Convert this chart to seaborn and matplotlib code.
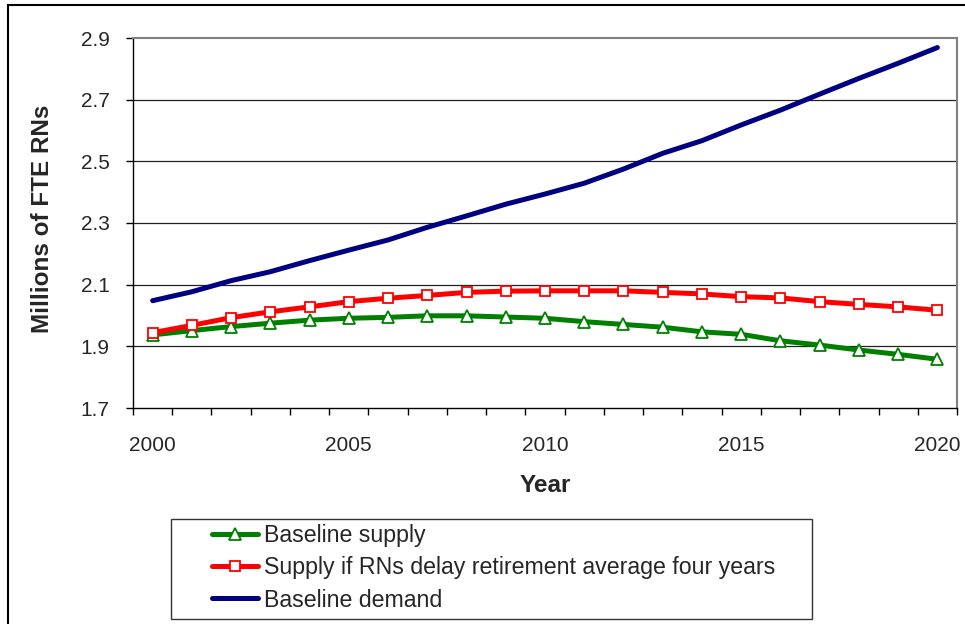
import numpy as np
import pandas as pd
import matplotlib
matplotlib.use("Agg")
import matplotlib.pyplot as plt
import matplotlib.patches as patches
from matplotlib.ticker import FixedLocator, FormatStrFormatter
import seaborn as sns

# data (millions of FTE RNs)
years = list(range(2000, 2021))
baseline_supply = [1.937, 1.951, 1.964, 1.975, 1.985, 1.991, 1.994, 1.999, 1.999, 1.995, 1.991,
                   1.980, 1.971, 1.962, 1.947, 1.939, 1.918, 1.904, 1.888, 1.874, 1.858]
delay_supply = [1.944, 1.968, 1.993, 2.012, 2.028, 2.045, 2.056, 2.065, 2.075, 2.079, 2.080,
                2.080, 2.080, 2.075, 2.070, 2.061, 2.057, 2.045, 2.036, 2.028, 2.017]
baseline_demand = [2.048, 2.077, 2.113, 2.142, 2.178, 2.212, 2.245, 2.286, 2.323, 2.361, 2.394,
                   2.429, 2.475, 2.526, 2.567, 2.618, 2.666, 2.718, 2.769, 2.818, 2.869]
series_names = ["Baseline supply",
                "Supply if RNs delay retirement average four years",
                "Baseline demand"]
y_ticks = [1.7, 1.9, 2.1, 2.3, 2.5, 2.7, 2.9]
x_labels = [2000, 2005, 2010, 2015, 2020]

sns.set_style("white")
plt.rcParams["font.family"] = ["Liberation Sans", "DejaVu Sans"]
FS = 15

W, H = 965, 624
fig = plt.figure(figsize=(W / 100, H / 100), dpi=100)
ax = fig.add_axes([133 / W, 1 - 408 / H, 824 / W, 370 / H])

df = pd.DataFrame({"year": years, "base": baseline_supply,
                   "delay": delay_supply, "demand": baseline_demand})

# baseline supply - green with open triangles
sns.lineplot(data=df, x="year", y="base", ax=ax, color="#008000", lw=3.6,
             marker="^", markersize=9, markerfacecolor="white",
             markeredgecolor="#008000", markeredgewidth=1.3,
             label=series_names[0], zorder=3)
# delayed retirement - red with open squares
sns.lineplot(data=df, x="year", y="delay", ax=ax, color="#ff0000", lw=3.6,
             marker="s", markersize=7.5, markerfacecolor="white",
             markeredgecolor="#ff0000", markeredgewidth=1.3,
             label=series_names[1], zorder=4)
# demand - navy plain line
sns.lineplot(data=df, x="year", y="demand", ax=ax, color="#000080", lw=3.6,
             label=series_names[2], zorder=5)

ax.set_xlim(1999.5, 2020.5)
ax.set_ylim(1.7, 2.9)

# y axis
ax.yaxis.set_major_locator(FixedLocator(y_ticks))
ax.yaxis.set_major_formatter(FormatStrFormatter("%.1f"))
ax.tick_params(axis="y", which="major", direction="out", length=5, width=1,
               color="black", labelsize=FS, pad=12, left=True)

# x axis: tick marks between years, labels every 5 years
ax.xaxis.set_major_locator(FixedLocator(np.arange(1999.5, 2021, 1.0)))
ax.xaxis.set_major_formatter(plt.NullFormatter())
ax.xaxis.set_minor_locator(FixedLocator(x_labels))
ax.xaxis.set_minor_formatter(FormatStrFormatter("%d"))
ax.tick_params(axis="x", which="major", direction="out", length=5, width=1,
               color="black", bottom=True)
ax.tick_params(axis="x", which="minor", length=0, labelsize=FS, pad=20, bottom=True)

# grid lines
for v in y_ticks[1:-1]:
    ax.axhline(v, color="#222222", lw=0.9, zorder=1)

for side in ["left", "bottom"]:
    ax.spines[side].set_color("black")
    ax.spines[side].set_linewidth(1.0)
for side in ["top", "right"]:
    ax.spines[side].set_color("#808080")
    ax.spines[side].set_linewidth(1.5)

ax.set_xlabel("Year", fontsize=17.5, fontweight="bold")
ax.set_ylabel("Millions of FTE RNs", fontsize=17.5, fontweight="bold")
ax.xaxis.set_label_coords(0.5, (408 - 485) / 370)
ax.xaxis.label.set_va("center")
ax.yaxis.set_label_coords((43 - 133) / 824, 0.511)
ax.yaxis.label.set_va("center")

# legend below the plot, with its own frame box
ax.legend_.remove()
handles, labels = ax.get_legend_handles_labels()
fig.legend(handles, labels, loc="upper left", frameon=False,
           bbox_to_anchor=(212 / W, 1 - 524 / H), borderpad=0, borderaxespad=0,
           fontsize=16.7, handlelength=2.0, handletextpad=0.25, labelspacing=0.4)
fig.add_artist(patches.Rectangle((171 / W, 1 - 619 / H), (812 - 171) / W, 100 / H,
                                 transform=fig.transFigure, fill=False,
                                 edgecolor="#333333", lw=1.0))

# outer chart border
fig.add_artist(patches.Rectangle((8 / W, -0.1), 1.2, 1.1 - 5 / H,
                                 transform=fig.transFigure, fill=False,
                                 edgecolor="black", lw=1.5, clip_on=False))

fig.savefig("out.png", dpi=100)
